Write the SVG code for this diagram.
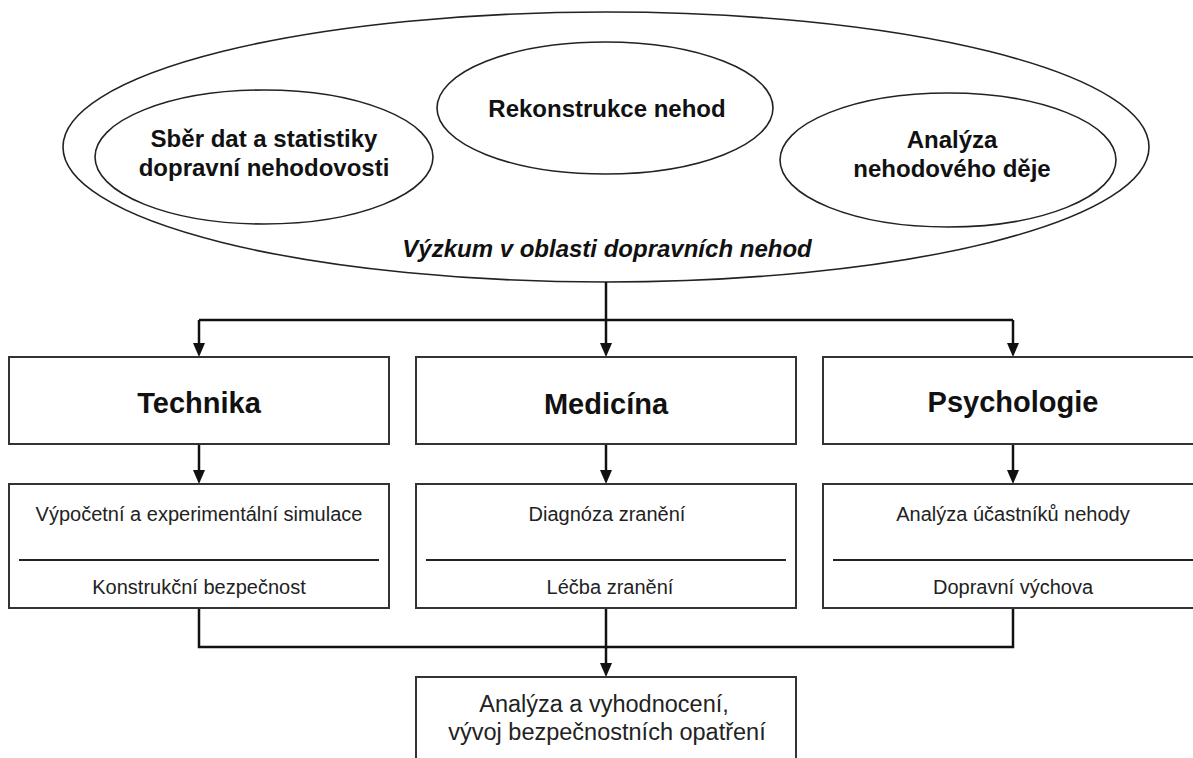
<svg xmlns="http://www.w3.org/2000/svg" width="1193" height="758" viewBox="0 0 1193 758">
  <style>
    .ell { fill: none; stroke: #222; stroke-width: 1.6; }
    .box { fill: #fff; stroke: #333; stroke-width: 2; }
    .sep { stroke: #222; stroke-width: 2; }
    .conn { fill: none; stroke: #111; stroke-width: 2.5; }
    .bold { font-family: "Liberation Sans", Arial, sans-serif; font-weight: bold; fill: #111; text-anchor: middle; }
    .ellt { font-size: 24px; }
    .head { font-size: 29px; }
    .ital { font-size: 24px; font-style: italic; }
    .reg { font-family: "Liberation Sans", Arial, sans-serif; font-size: 20px; fill: #222; text-anchor: middle; }
    .fin { font-size: 23.5px; }
  </style>
  <defs>
    <marker id="arrow" markerUnits="userSpaceOnUse" markerWidth="14" markerHeight="12" viewBox="0 0 14 12" refX="6" refY="6" orient="auto">
      <path d="M0,0 L14,6 L0,12 z" fill="#111"/>
    </marker>
  </defs>
  <rect x="0" y="0" width="1193" height="758" fill="#fff"/>

  <g id="research">
    <ellipse class="ell" cx="606" cy="147" rx="543" ry="135"/>
    <text class="bold ital" x="607" y="257">Výzkum v oblasti dopravních nehod</text>
  </g>
  <g id="data">
    <ellipse class="ell" cx="264" cy="157" rx="169" ry="67"/>
    <text class="bold ellt" x="264" y="147">Sběr dat a statistiky</text>
    <text class="bold ellt" x="264" y="176">dopravní nehodovosti</text>
  </g>
  <g id="reconstruction">
    <ellipse class="ell" cx="605" cy="108" rx="168" ry="66"/>
    <text class="bold ellt" x="607" y="117">Rekonstrukce nehod</text>
  </g>
  <g id="analysis">
    <ellipse class="ell" cx="948" cy="160" rx="168" ry="67"/>
    <text class="bold ellt" x="952" y="148">Analýza</text>
    <text class="bold ellt" x="952" y="177">nehodového děje</text>
  </g>

  <g id="connectors">
    <path class="conn" d="M606,282 V349" marker-end="url(#arrow)"/>
    <path class="conn" d="M199,320 H1013"/>
    <path class="conn" d="M199,320 V349" marker-end="url(#arrow)"/>
    <path class="conn" d="M1013,320 V349" marker-end="url(#arrow)"/>
    <path class="conn" d="M199,444 V476" marker-end="url(#arrow)"/>
    <path class="conn" d="M606,444 V476" marker-end="url(#arrow)"/>
    <path class="conn" d="M1013,444 V476" marker-end="url(#arrow)"/>
    <path class="conn" d="M199,608 V647 H1013 V608"/>
    <path class="conn" d="M606,608 V669" marker-end="url(#arrow)"/>
  </g>

  <g id="technika">
    <rect class="box" x="9" y="357" width="380" height="87"/>
    <text class="bold head" x="199" y="413">Technika</text>
  </g>
  <g id="medicina">
    <rect class="box" x="416" y="357" width="380" height="87"/>
    <text class="bold head" x="606" y="414">Medicína</text>
  </g>
  <g id="psychologie">
    <rect class="box" x="823" y="357" width="380" height="87"/>
    <text class="bold head" x="1013" y="412">Psychologie</text>
  </g>

  <g id="technika-detail">
    <rect class="box" x="9" y="484" width="380" height="124"/>
    <text class="reg" x="199" y="521">Výpočetní a experimentální simulace</text>
    <line class="sep" x1="19" y1="560" x2="379" y2="560"/>
    <text class="reg" x="199" y="594">Konstrukční bezpečnost</text>
  </g>
  <g id="medicina-detail">
    <rect class="box" x="416" y="484" width="380" height="124"/>
    <text class="reg" x="607" y="521">Diagnóza zranění</text>
    <line class="sep" x1="426" y1="560" x2="786" y2="560"/>
    <text class="reg" x="610" y="594">Léčba zranění</text>
  </g>
  <g id="psychologie-detail">
    <rect class="box" x="823" y="484" width="380" height="124"/>
    <text class="reg" x="1013" y="521">Analýza účastníků nehody</text>
    <line class="sep" x1="833" y1="560" x2="1193" y2="560"/>
    <text class="reg" x="1013" y="594">Dopravní výchova</text>
  </g>

  <g id="vyhodnoceni">
    <rect class="box" x="416" y="677" width="380" height="100"/>
    <text class="reg fin" x="604" y="712">Analýza a vyhodnocení,</text>
    <text class="reg fin" x="607" y="740">vývoj bezpečnostních opatření</text>
  </g>
</svg>
